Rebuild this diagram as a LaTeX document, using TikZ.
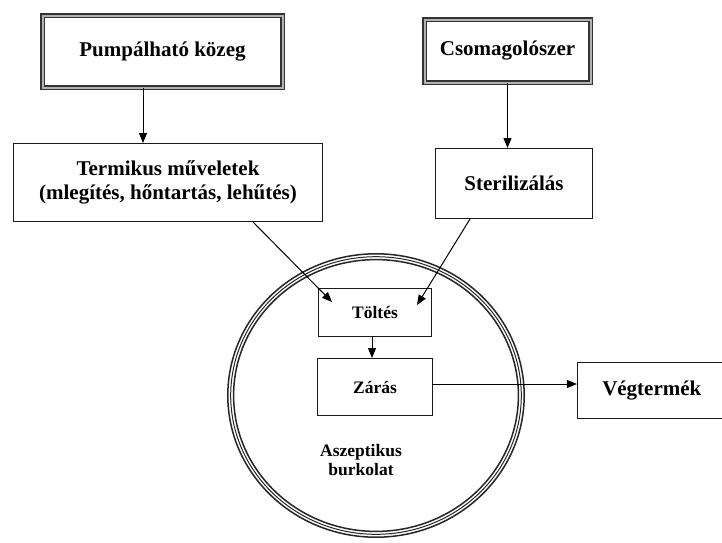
\documentclass[tikz,border=0pt]{standalone}
\usepackage{fontspec}
\setmainfont{Liberation Serif}
\usetikzlibrary{arrows.meta}
\begin{document}
\begin{tikzpicture}[x=1pt,y=-1pt,
  bigtxt/.style={font=\fontsize{21}{23.5}\selectfont\bfseries, align=center},
  smalltxt/.style={font=\fontsize{17.5}{19}\selectfont\bfseries, align=center},
  dbox/.style={draw=black!80, line width=1.5pt, double=black!30, double distance=2pt,
    rectangle, inner sep=0pt, bigtxt},
  sbox/.style={draw=black!90, line width=1.4pt, rectangle, inner sep=0pt, fill=white},
  arr/.style={draw=black, line width=1pt, -{Triangle[length=10pt,width=8pt]}},
  ring/.style={draw=black!85}
]
\useasboundingbox (0,0) rectangle (722,542);
\clip (0,0) rectangle (722,542);
\fill[white] (0,0) rectangle (722,542);

% aseptic envelope
\draw[ring, line width=1.5pt] (376,395.5) ellipse [x radius=148.2, y radius=141.7];
\draw[ring, line width=1pt] (376,395.5) ellipse [x radius=145.3, y radius=138.8];
\draw[ring, line width=1.5pt] (376,395.5) ellipse [x radius=142.4, y radius=135.9];

\node[dbox, minimum width=240pt, minimum height=72pt] (pump) at (162.5,51.5) {Pumpálható közeg};
\node[dbox, minimum width=166pt, minimum height=63pt] (csom) at (507.5,51) {Csomagolószer};
\node[sbox, bigtxt, minimum width=308.6pt, minimum height=77.6pt] (term) at (168,182.5) {Termikus műveletek\\(mlegítés, hőntartás, lehűtés)};
\node[sbox, bigtxt, minimum width=156.6pt, minimum height=69.6pt] (steril) at (514,183.5) {Sterilizálás};
\node[sbox, smalltxt, minimum width=112.6pt, minimum height=47.6pt] (tolt) at (375,312.5) {Töltés};
\node[sbox, smalltxt, minimum width=114.6pt, minimum height=56.6pt] (zaras) at (375,387) {Zárás};
\node[sbox, bigtxt, minimum width=148.4pt, minimum height=55.6pt] (veg) at (651.8,390.5) {Végtermék};
\node[smalltxt] (asz) at (361,460) {Aszeptikus\\burkolat};

% connectors
\coordinate (p1) at ([xshift=-19.5pt]pump.south);
\draw[arr] (p1) -- (p1 |- term.north);
\draw[arr] (csom.south) -- (csom.south |- steril.north);
\draw[arr] ([xshift=85pt]term.south) -- ([xshift=-43pt,yshift=-14pt]tolt.north);
\draw[arr] ([xshift=-44pt]steril.south) -- ([xshift=42pt,yshift=-17pt]tolt.north);
\coordinate (t1) at ([xshift=-3pt]tolt.south);
\draw[arr] (t1) -- (t1 |- zaras.north);
\coordinate (z1) at ([yshift=3pt]zaras.east);
\draw[arr] (z1) -- (z1 -| veg.west);
\end{tikzpicture}
\end{document}
